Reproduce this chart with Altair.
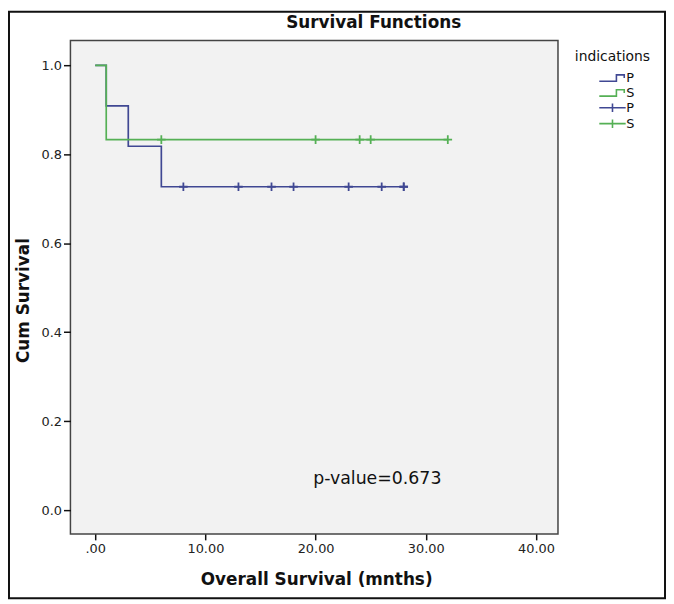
import altair as alt
import pandas as pd

# ---- data ----
p_step_time = [0, 1, 3, 6, 28]
p_step_surv = [1.0, 0.909, 0.818, 0.727, 0.727]
s_step_time = [0, 1, 32]
s_step_surv = [1.0, 0.833, 0.833]
p_cens_time = [8, 13, 16, 18, 23, 26, 28, 28]
p_cens_surv = [0.727, 0.727, 0.727, 0.727, 0.727, 0.727, 0.727, 0.727]
s_cens_time = [6, 20, 24, 25, 32]
s_cens_surv = [0.833, 0.833, 0.833, 0.833, 0.833]
legend_labels = ["P", "S", "P ", "S "]
x_ticks = [0, 10, 20, 30, 40]
y_ticks = [0.0, 0.2, 0.4, 0.6, 0.8, 1.0]
chart_title = ["Survival Functions"]
x_title = "Overall Survival (mnths)"
y_title = "Cum Survival"
legend_title = "indications"
pvalue_text = ["p-value=0.673"]
pvalue_x = [25.6]
pvalue_y = [0.069]

BLUE = "#404893"
GREEN = "#55b055"
FONT = "DejaVu Sans"

STEP = "M-1.85,0.45L0.55,0.45L0.55,-0.45L1.65,-0.45L1.65,0"
CROSS_L = "M-1.85,0L1.85,0M0,-0.6L0,0.6"
CROSS = "M-1,0L1,0M0,-1L0,1"

p_step = pd.DataFrame({"t": p_step_time, "s": p_step_surv})
s_step = pd.DataFrame({"t": s_step_time, "s": s_step_surv})
p_cens = pd.DataFrame({"t": p_cens_time, "s": p_cens_surv})
s_cens = pd.DataFrame({"t": s_cens_time, "s": s_cens_surv})
leg = pd.DataFrame({"entry": legend_labels, "t": [0] * 4, "s": [1.0] * 4})
ptxt = pd.DataFrame({"label": pvalue_text, "t": pvalue_x, "s": pvalue_y})
ttxt = pd.DataFrame({"label": chart_title})

xs = alt.Scale(domain=[-2.25, 42], nice=False, zero=False)
ys = alt.Scale(domain=[-0.0535, 1.056], nice=False, zero=False)

xax = alt.Axis(values=x_ticks, labelExpr="datum.value == 0 ? '.00' : format(datum.value, '.2f')",
               grid=False, domain=False, tickSize=6, tickColor="#111", tickWidth=1.5,
               labelFont=FONT, labelFontSize=13, labelColor="#222", labelPadding=3,
               title=x_title, titleFont=FONT, titleFontSize=17, titleFontWeight="bold",
               titleColor="#111", titlePadding=16, titleX=248)
yax = alt.Axis(values=y_ticks, format=".1f", grid=False, domain=False, tickSize=7,
               tickColor="#111", tickWidth=1.5, labelFont=FONT, labelFontSize=13,
               labelColor="#222", labelPadding=2,
               title=y_title, titleFont=FONT, titleFontSize=17, titleFontWeight="bold",
               titleColor="#111", titlePadding=9, titleY=262)

X = alt.X("t:Q", scale=xs, axis=xax)
Y = alt.Y("s:Q", scale=ys, axis=yax)

p_line = alt.Chart(p_step).mark_line(interpolate="step-after", color=BLUE, strokeWidth=1.7).encode(x=X, y=Y)
s_line = alt.Chart(s_step).mark_line(interpolate="step-after", color=GREEN, strokeWidth=1.7).encode(x="t:Q", y="s:Q")
p_c = alt.Chart(p_cens).mark_point(shape=CROSS, size=75, filled=False, color=BLUE, strokeWidth=1.8, opacity=1).encode(x="t:Q", y="s:Q")
s_c = alt.Chart(s_cens).mark_point(shape=CROSS, size=75, filled=False, color=GREEN, strokeWidth=1.8, opacity=1).encode(x="t:Q", y="s:Q")

legend_layer = alt.Chart(leg).mark_point(filled=False, opacity=0).encode(
    x="t:Q", y="s:Q",
    color=alt.Color("entry:N", scale=alt.Scale(domain=legend_labels, range=[BLUE, GREEN, BLUE, GREEN]),
                    legend=alt.Legend(title=legend_title, orient="none", legendX=509, legendY=10,
                                      padding=0, symbolOffset=30, labelOffset=6, rowPadding=0,
                                      symbolSize=207, symbolStrokeWidth=1.6, symbolOpacity=1,
                                      titleFont=FONT, titleFontSize=14, titleFontWeight="normal",
                                      titleColor="#111", labelFont=FONT, labelFontSize=13,
                                      labelColor="#111", titlePadding=6)),
    shape=alt.Shape("entry:N", scale=alt.Scale(domain=legend_labels, range=[STEP, STEP, CROSS_L, CROSS_L]),
                    legend=alt.Legend(title=legend_title)),
)

ptext = alt.Chart(ptxt).mark_text(font=FONT, fontSize=17.5, color="#111", align="center", baseline="middle").encode(
    x="t:Q", y="s:Q", text="label:N")

ttext = alt.Chart(ttxt).mark_text(font=FONT, fontSize=17, fontWeight="bold", color="#111",
                                  align="center", baseline="middle").encode(
    x=alt.value(306), y=alt.value(-18), text="label:N")

frame = alt.Chart(pd.DataFrame({"a": [0]})).mark_rect(fillOpacity=0, stroke="#111", strokeWidth=2).encode(
    x=alt.value(-62), x2=alt.value(600), y=alt.value(-29), y2=alt.value(563))

chart = alt.layer(p_line, s_line, p_c, s_c, legend_layer, ptext, ttext, frame).properties(
    width=492, height=498,
    autosize=alt.AutoSizeParams(type="none"),
    padding={"left": 63, "top": 30, "right": 109, "bottom": 66},
    background="white",
).configure_view(fill="#f2f2f2", stroke="#444", strokeWidth=1.5)

chart.save("out.html", embed_options={"renderer": "svg", "actions": False})
